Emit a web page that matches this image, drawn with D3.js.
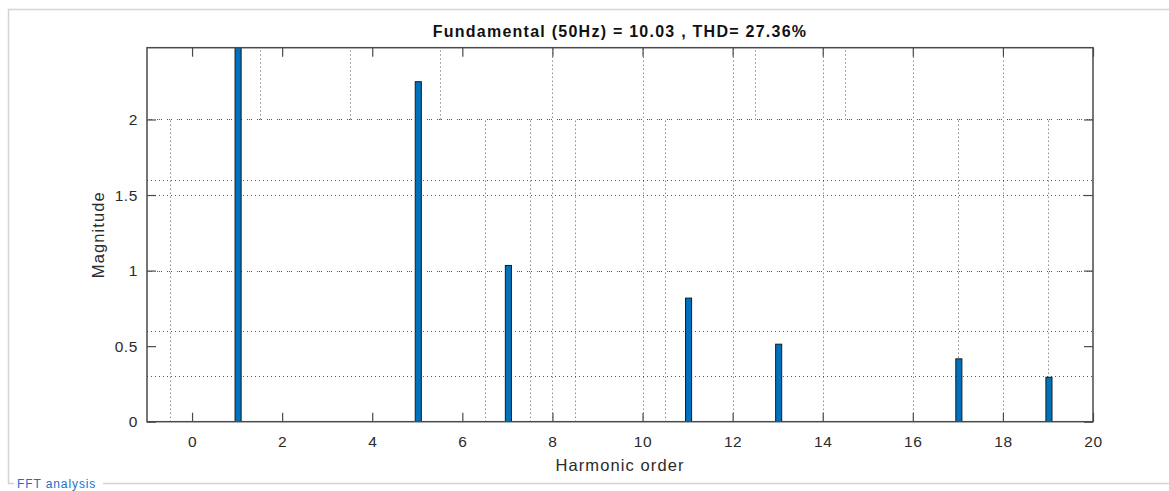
<!DOCTYPE html>
<html>
<head>
<meta charset="utf-8">
<script src="https://cdn.jsdelivr.net/npm/d3@7"></script>
<style>
  html, body { margin: 0; padding: 0; background: #fff; }
  svg { display: block; }
  text { font-family: "Liberation Sans", Arial, Helvetica, sans-serif; }
</style>
</head>
<body>
<svg id="chart" width="1169" height="491"></svg>
<script>
// Harmonic spectrum (magnitude per harmonic order)
const harmonicOrders = [1, 5, 7, 11, 13, 17, 19];
const magnitudes     = [10.03, 2.25, 1.034, 0.818, 0.513, 0.416, 0.294];

const titleText  = "Fundamental (50Hz) = 10.03 , THD= 27.36%";
const xLabelText = "Harmonic order";
const yLabelText = "Magnitude";
const panelTitle = "FFT analysis";

const xTickValues = [0, 2, 4, 6, 8, 10, 12, 14, 16, 18, 20];
const yTickValues = [0, 0.5, 1, 1.5, 2];
const xDomain = [-1, 20];
const yDomain = [0, 2.475];

// dotted grid: vertical lines over the upper band, the lower band, or the full height
const gridXUpper = [1.5, 3.5, 5.5, 12.5, 14.5];
const gridXLower = [-0.5, 6.5, 7.5, 8.5, 10.5, 17, 19];
const gridXFull  = [8, 10, 12, 14, 16, 18];
const gridYSplit = 2;
const gridYPlain  = [0.3, 0.6, 1.5, 1.6];
const gridYDouble = [1, 2];

const svg = d3.select("#chart");
const W = 1169, H = 491;
const plot = { left: 147, top: 47.7, right: 1093, bottom: 421.7 };

// outer panel frame with its title at the bottom left
const frameColor = "#d4d4d4";
const panel = svg.append("g");
panel.append("path")
  .attr("d", `M${W},9.5 H8.5 V483.5 H14`)
  .attr("fill", "none").attr("stroke", frameColor).attr("stroke-width", 1.5);
panel.append("line")
  .attr("x1", 103).attr("x2", W).attr("y1", 483.5).attr("y2", 483.5)
  .attr("stroke", frameColor).attr("stroke-width", 1.5);
panel.append("text")
  .attr("x", 17).attr("y", 488)
  .attr("font-size", 12).attr("letter-spacing", 0.9)
  .attr("fill", "#1c6fc4")
  .text(panelTitle);

const x = d3.scaleLinear().domain(xDomain).range([plot.left, plot.right]);
const y = d3.scaleLinear().domain(yDomain).range([plot.bottom, plot.top]);

const g = svg.append("g");

// clip for everything inside the axes box
svg.append("defs").append("clipPath").attr("id", "plotClip")
  .append("rect")
  .attr("x", plot.left).attr("y", plot.top)
  .attr("width", plot.right - plot.left).attr("height", plot.bottom - plot.top);

const grid = g.append("g").attr("clip-path", "url(#plotClip)")
  .attr("stroke", "#3a3a3a").attr("stroke-width", 1).attr("fill", "none");

function vLines(vals, y0, y1) {
  grid.selectAll(null).data(vals).enter().append("line")
    .attr("x1", d => Math.round(x(d)) + 0.5).attr("x2", d => Math.round(x(d)) + 0.5)
    .attr("y1", y(y0)).attr("y2", y(y1))
    .attr("stroke-dasharray", "1,3")
    .attr("opacity", 0.85);
}
vLines(gridXUpper, gridYSplit, yDomain[1]);
vLines(gridXLower, 0, gridYSplit);
vLines(gridXFull, 0, yDomain[1]);

grid.selectAll(null).data(gridYPlain).enter().append("line")
  .attr("x1", plot.left).attr("x2", plot.right)
  .attr("y1", d => Math.round(y(d)) + 0.5).attr("y2", d => Math.round(y(d)) + 0.5)
  .attr("stroke-dasharray", "1,3")
  .attr("opacity", 0.85);
grid.selectAll(null).data(gridYDouble).enter().append("line")
  .attr("x1", plot.left).attr("x2", plot.right)
  .attr("y1", d => Math.round(y(d)) + 0.5).attr("y2", d => Math.round(y(d)) + 0.5)
  .attr("stroke-dasharray", "1,1,1,1,1,5")
  .attr("opacity", 0.85);

// bars
const barW = 0.135;
g.append("g").attr("clip-path", "url(#plotClip)")
  .selectAll("rect").data(harmonicOrders).enter().append("rect")
  .attr("x", (d) => x(d - barW / 2) + 1)
  .attr("width", x(barW) - x(0))
  .attr("y", (d, i) => y(Math.min(magnitudes[i], yDomain[1] + 0.1)))
  .attr("height", (d, i) => y(0) - y(Math.min(magnitudes[i], yDomain[1] + 0.1)))
  .attr("fill", "#0072BD")
  .attr("stroke", "#1a1a1a")
  .attr("stroke-width", 1);

// axes box
const axisColor = "#4a4a4a";
const tickLen = 9;
const fmtY = d3.format("");

const xAxisB = d3.axisBottom(x).tickValues(xTickValues).tickSize(-tickLen).tickPadding(14).tickFormat(d3.format("d"));
const xAxisT = d3.axisTop(x).tickValues(xTickValues).tickSize(-tickLen).tickFormat("");
const yAxisL = d3.axisLeft(y).tickValues(yTickValues).tickSize(-tickLen).tickPadding(9).tickFormat(fmtY);
const yAxisR = d3.axisRight(y).tickValues(yTickValues).tickSize(-tickLen).tickFormat("");

function styleAxis(sel) {
  sel.select(".domain").remove();
  sel.selectAll(".tick line").attr("stroke", axisColor).attr("stroke-width", 1.2);
  sel.selectAll(".tick text").attr("fill", "#2b2b2b").attr("font-size", 15.5)
    .attr("font-family", "'Liberation Sans', Arial, sans-serif").attr("letter-spacing", 0.6);
}
g.append("g").attr("transform", `translate(0,${plot.bottom})`).call(xAxisB).call(styleAxis);
g.append("g").attr("transform", `translate(0,${plot.top})`).call(xAxisT).call(styleAxis);
g.append("g").attr("transform", `translate(${plot.left},0)`).call(yAxisL).call(styleAxis);
g.append("g").attr("transform", `translate(${plot.right},0)`).call(yAxisR).call(styleAxis);

g.append("rect")
  .attr("x", plot.left).attr("y", plot.top)
  .attr("width", plot.right - plot.left).attr("height", plot.bottom - plot.top)
  .attr("fill", "none").attr("stroke", axisColor).attr("stroke-width", 1.5);

// title and axis labels
svg.append("text")
  .attr("x", (plot.left + plot.right) / 2).attr("y", 37)
  .attr("text-anchor", "middle").attr("font-weight", "bold").attr("font-size", 16)
  .attr("letter-spacing", 1.25).attr("fill", "#111")
  .text(titleText);

svg.append("text")
  .attr("x", (plot.left + plot.right) / 2).attr("y", 471)
  .attr("text-anchor", "middle").attr("font-size", 16.5).attr("letter-spacing", 1.1)
  .attr("fill", "#2b2b2b")
  .text(xLabelText);

svg.append("text")
  .attr("transform", `translate(104,${(plot.top + plot.bottom) / 2}) rotate(-90)`)
  .attr("text-anchor", "middle").attr("font-size", 16.5).attr("letter-spacing", 1.1)
  .attr("fill", "#2b2b2b")
  .text(yLabelText);
</script>
</body>
</html>
